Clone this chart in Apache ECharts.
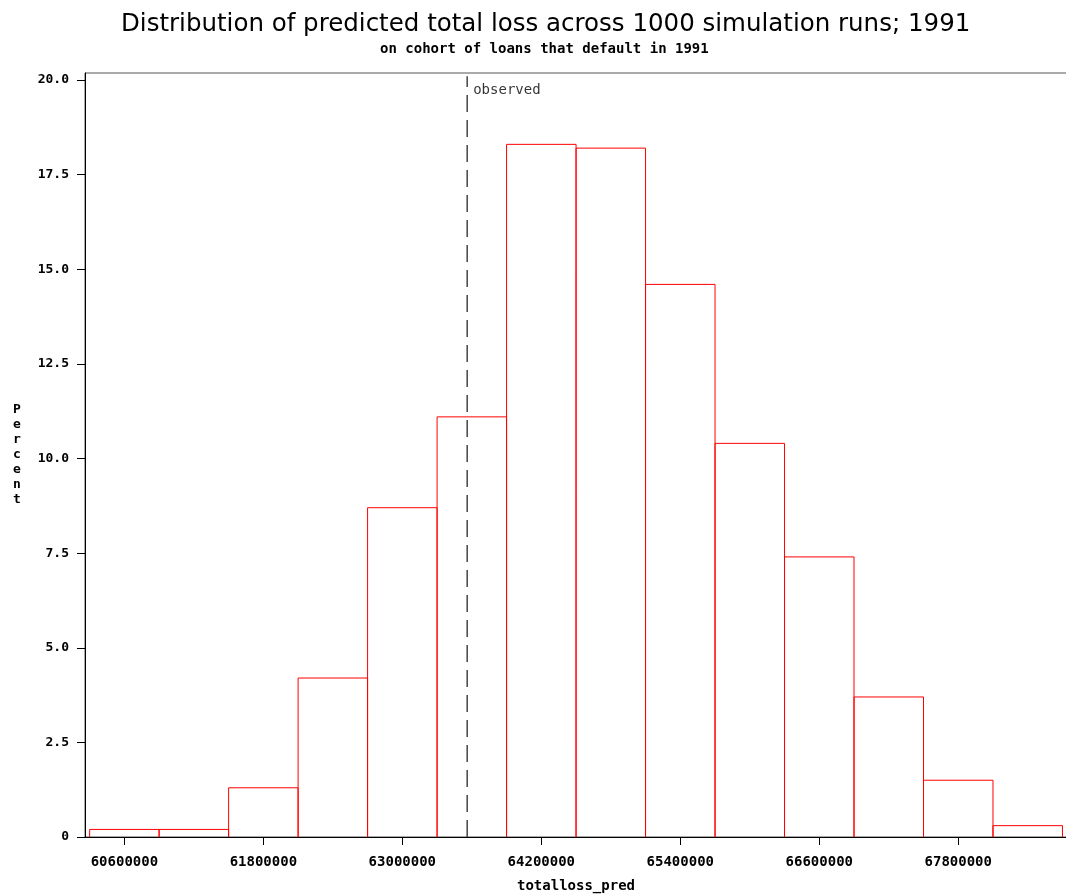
<!DOCTYPE html>
<html>
<head>
<meta charset="utf-8">
<script src="https://cdn.jsdelivr.net/npm/echarts@6/dist/echarts.min.js"></script>
<style>
  html, body { margin: 0; padding: 0; background: #fff; }
  #chart { width: 1066px; height: 895px; }
</style>
</head>
<body>
<div id="chart"></div>
<script>
// bin midpoints of totalloss_pred, width 600000 each
const binMids = [60600000, 61200000, 61800000, 62400000, 63000000, 63600000, 64200000,
  64800000, 65400000, 66000000, 66600000, 67200000, 67800000, 68400000];
const binWidth = 600000;
const percents = [0.2, 0.2, 1.3, 4.2, 8.7, 11.1, 18.3, 18.2, 14.6, 10.4, 7.4, 3.7, 1.5, 0.3];

const observed = 63560000;

const xTicks = [60600000, 61800000, 63000000, 64200000, 65400000, 66600000, 67800000];
const yTicks = [0, 2.5, 5, 7.5, 10, 12.5, 15, 17.5, 20];

const mono = "DejaVu Sans Mono";

const bars = binMids.map((m, i) => [m - binWidth / 2, m + binWidth / 2, percents[i]]);

const chart = echarts.init(document.getElementById("chart"), null, { renderer: "canvas" });

const option = {
  animation: false,
  backgroundColor: "#fff",
  title: [
    {
      text: "Distribution of predicted total loss across 1000 simulation runs; 1991",
      left: 116,
      top: 7,
      textStyle: { fontFamily: "DejaVu Sans", fontWeight: "normal", fontSize: 24.5, color: "#000" },
    },
    {
      text: "on cohort of loans that default in 1991",
      left: 375,
      top: 37,
      textStyle: { fontFamily: mono, fontWeight: "bold", fontSize: 14, color: "#000" },
    },
  ],
  grid: {
    left: 85,
    right: -1,
    top: 73,
    bottom: 58,
    outerBoundsMode: "none",
    containLabel: false,
    show: true,
    borderColor: "#555",
    borderWidth: 1,
  },
  xAxis: {
    type: "value",
    min: 60260000,
    max: 68739000,
    name: "totalloss_pred",
    nameLocation: "middle",
    nameGap: 42,
    nameTextStyle: { fontFamily: mono, fontWeight: "bold", fontSize: 14, color: "#000" },
    axisLine: { lineStyle: { color: "#000", width: 1 } },
    axisTick: { customValues: xTicks, length: 8, lineStyle: { color: "#000" } },
    axisLabel: {
      customValues: xTicks,
      margin: 18,
      fontFamily: mono,
      fontWeight: "bold",
      fontSize: 14,
      color: "#000",
      formatter: (v) => String(v),
    },
    splitLine: { show: false },
    z: 5,
  },
  yAxis: {
    type: "value",
    min: 0,
    max: 20.185,
    name: "P\ne\nr\nc\ne\nn\nt",
    nameLocation: "middle",
    nameRotate: 0,
    nameGap: 68,
    nameTextStyle: {
      fontFamily: mono,
      fontWeight: "bold",
      fontSize: 13,
      lineHeight: 15,
      color: "#000",
      align: "center",
      verticalAlign: "middle",
      padding: [8, 0, 0, 0],
    },
    axisLine: { show: true, lineStyle: { color: "#000", width: 1 } },
    axisTick: { show: true, customValues: yTicks, length: 8, lineStyle: { color: "#000" } },
    axisLabel: {
      customValues: yTicks,
      margin: 16,
      fontFamily: mono,
      fontWeight: "bold",
      fontSize: 13,
      color: "#000",
      formatter: (v) => (v === 0 ? "0" : v.toFixed(1)),
    },
    splitLine: { show: false },
    z: 5,
  },
  series: [
    {
      type: "custom",
      data: bars,
      renderItem: (params, api) => {
        const top0 = api.coord([api.value(0), api.value(2)]);
        const top1 = api.coord([api.value(1), api.value(2)]);
        const base0 = api.coord([api.value(0), 0]);
        const base1 = api.coord([api.value(1), 0]);
        return {
          type: "polyline",
          shape: { points: [base0, top0, top1, base1] },
          style: { fill: "none", stroke: "#ff0000", lineWidth: 1 },
        };
      },
      encode: { x: [0, 1], y: 2 },
      z: 2,
    },
    {
      type: "line",
      data: [[observed, 0], [observed, 20.1]],
      symbol: "none",
      lineStyle: { color: "#444", width: 1.5, type: [17, 8] },
      z: 3,
    },
    {
      type: "scatter",
      data: [[observed, 19.72]],
      symbolSize: 0,
      label: {
        show: true,
        position: "right",
        distance: 6,
        formatter: "observed",
        fontFamily: mono,
        fontSize: 14,
        color: "#000",
      },
      z: 4,
    },
  ],
};

chart.setOption(option);
</script>
</body>
</html>
